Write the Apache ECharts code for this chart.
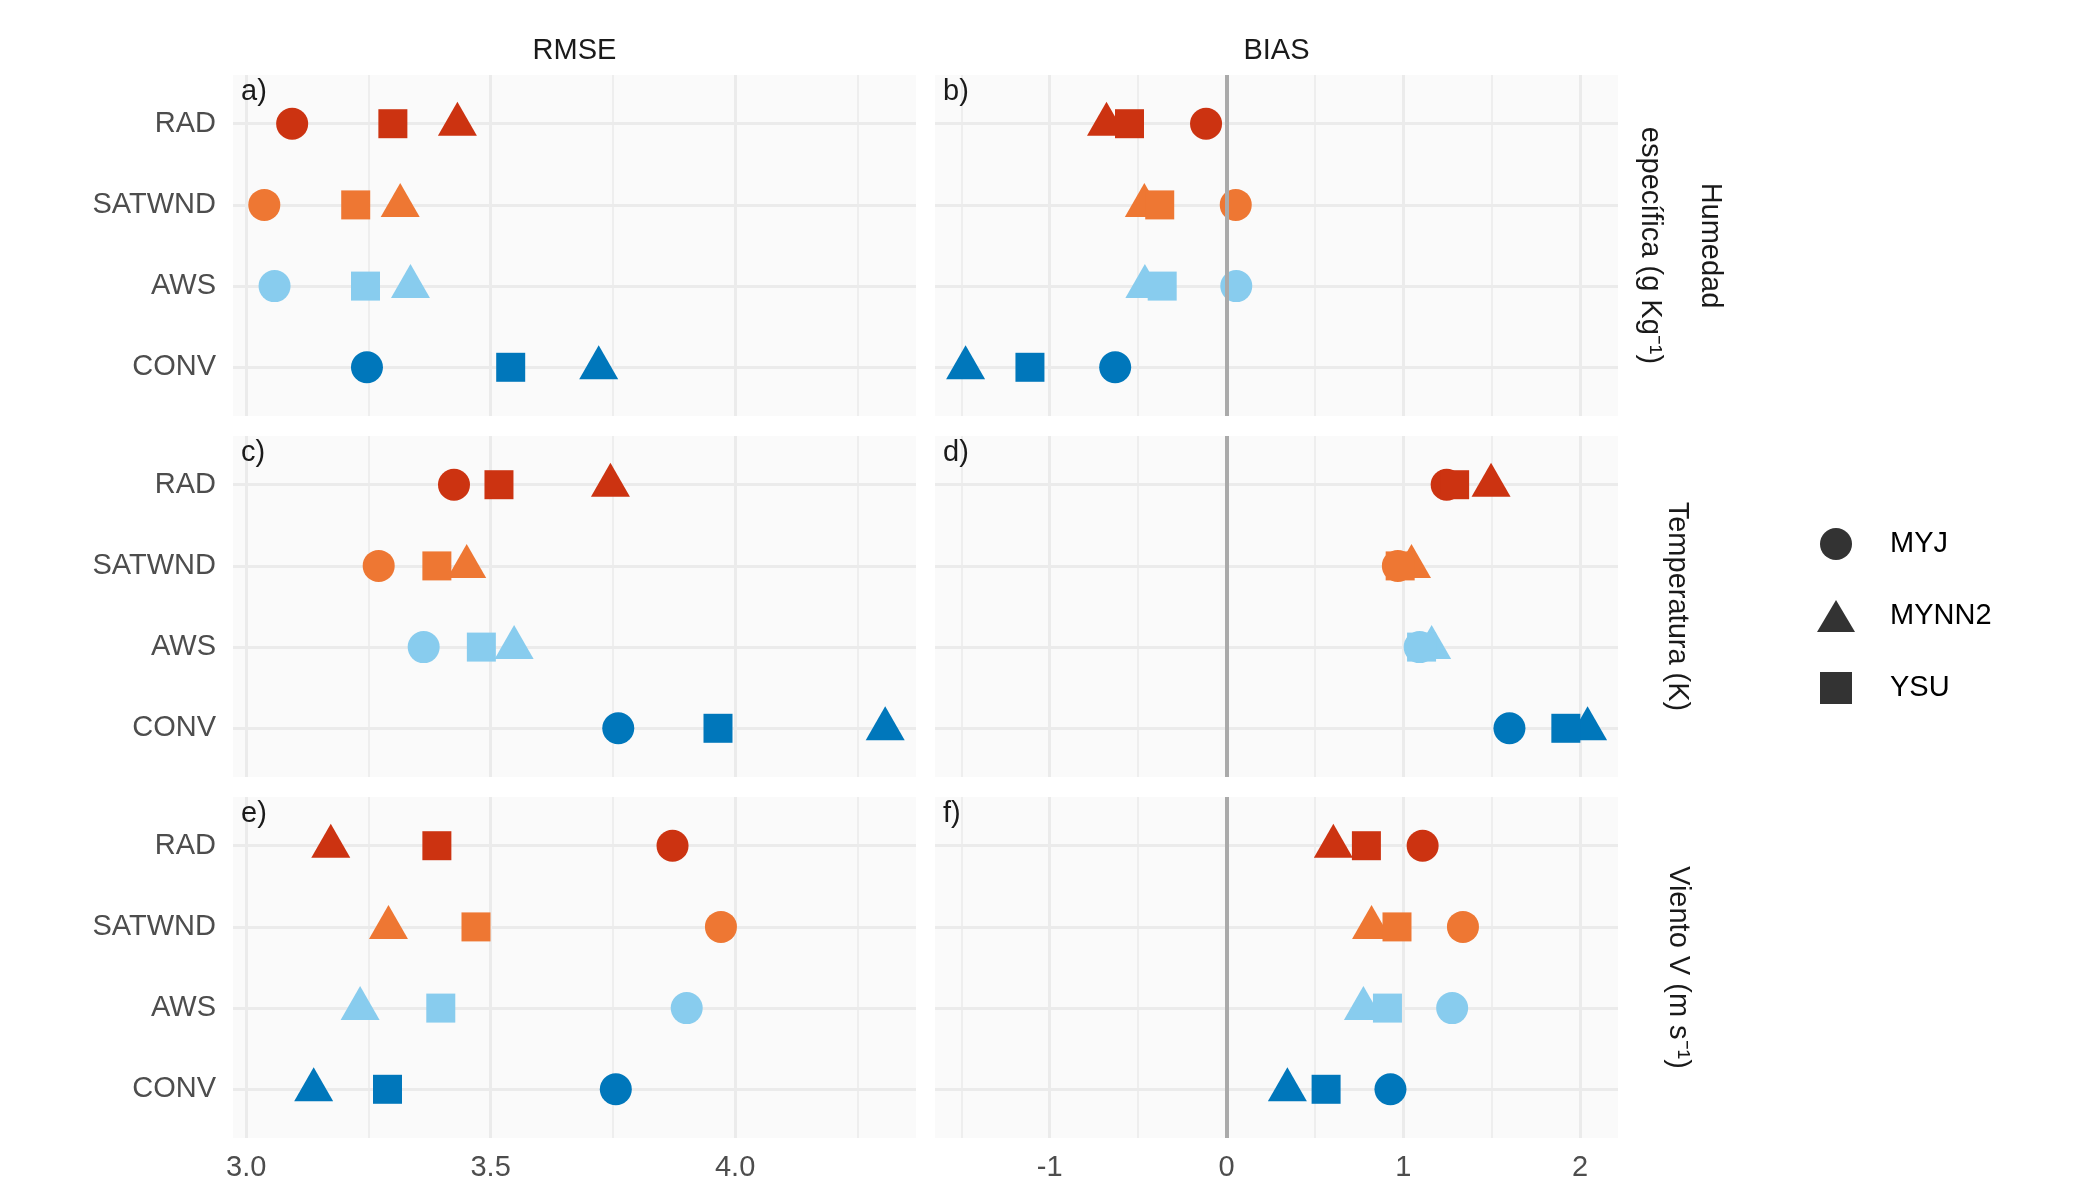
<!DOCTYPE html>
<html><head><meta charset="utf-8">
<script src="https://cdn.jsdelivr.net/npm/echarts@6/dist/echarts.min.js"></script>
<style>html,body{margin:0;padding:0;background:#fff}#c{width:2100px;height:1200px}</style>
</head><body><div id="c"></div>
<script>
// ---------- data ----------
const obsTypes = ['RAD', 'SATWND', 'AWS', 'CONV'];
const obsColors = ['#CC3311', '#EE7733', '#88CCEE', '#0077BB'];
const schemes = ['MYJ', 'MYNN2', 'YSU'];
const metrics = ['RMSE', 'BIAS'];
const variables = ['Humedad\nespecífica (g Kg⁻¹)', 'Temperatura (K)', 'Viento V (m s⁻¹)'];
const panelLetters = ['a)', 'b)', 'c)', 'd)', 'e)', 'f)'];
const rmseTicks = [3.0, 3.5, 4.0];
const rmseMinor = [3.25, 3.75, 4.25];
const biasTicks = [-1, 0, 1, 2];
const biasMinor = [-1.5, -0.5, 0.5, 1.5];

// values in order RAD, SATWND, AWS, CONV
const humRmseMYJ   = [3.094, 3.037, 3.058, 3.247];
const humRmseMYNN2 = [3.432, 3.315, 3.336, 3.721];
const humRmseYSU   = [3.300, 3.224, 3.244, 3.541];
const humBiasMYJ   = [-0.116, 0.052, 0.055, -0.630];
const humBiasMYNN2 = [-0.679, -0.465, -0.462, -1.476];
const humBiasYSU   = [-0.549, -0.378, -0.364, -1.112];
const tempRmseMYJ   = [3.425, 3.271, 3.363, 3.761];
const tempRmseMYNN2 = [3.745, 3.451, 3.548, 4.307];
const tempRmseYSU   = [3.517, 3.390, 3.481, 3.965];
const tempBiasMYJ   = [1.245, 0.969, 1.092, 1.600];
const tempBiasMYNN2 = [1.496, 1.046, 1.160, 2.042];
const tempBiasYSU   = [1.290, 0.982, 1.103, 1.919];
const windRmseMYJ   = [3.872, 3.971, 3.901, 3.756];
const windRmseMYNN2 = [3.173, 3.291, 3.233, 3.138];
const windRmseYSU   = [3.390, 3.470, 3.398, 3.289];
const windBiasMYJ   = [1.109, 1.337, 1.276, 0.927];
const windBiasMYNN2 = [0.604, 0.820, 0.774, 0.344];
const windBiasYSU   = [0.791, 0.964, 0.910, 0.563];

// panels in reading order: [row][col]
const panelData = [
  [[humRmseMYJ, humRmseMYNN2, humRmseYSU], [humBiasMYJ, humBiasMYNN2, humBiasYSU]],
  [[tempRmseMYJ, tempRmseMYNN2, tempRmseYSU], [tempBiasMYJ, tempBiasMYNN2, tempBiasYSU]],
  [[windRmseMYJ, windRmseMYNN2, windRmseYSU], [windBiasMYJ, windBiasMYNN2, windBiasYSU]]
];

// ---------- layout / style ----------
const FONT = '"Liberation Sans", Arial, sans-serif';
const FS = 29;
const colLeft = [233, 935];
const panelW = 683;
const rowTop = [75, 436, 797];
const panelH = 341;
const xRange = [[2.973, 4.370], [-1.649, 2.214]];
const majorTicks = [rmseTicks, biasTicks];
const minorTicks = [rmseMinor, biasMinor];
const gridCol = '#EBEBEB';

const symbols = [
  { symbol: 'circle', size: 32, offset: [0, 0] },
  { symbol: 'triangle', size: [39, 34], offset: [0, -5] },
  { symbol: 'rect', size: 29, offset: [0, 0] }
];

const grids = [], xAxes = [], yAxes = [], series = [], graphics = [];
const nObs = obsTypes.length;
const yTicks = obsTypes.map((_, i) => nObs - i);

for (let r = 0; r < 3; r++) {
  for (let c = 0; c < 2; c++) {
    const p = r * 2 + c;
    grids.push({ left: colLeft[c], top: rowTop[r], width: panelW, height: panelH,
      show: true, backgroundColor: '#FAFAFA', borderWidth: 0, containLabel: false });
    // major x axis
    xAxes.push({ type: 'value', gridIndex: p, min: xRange[c][0], max: xRange[c][1], position: 'bottom',
      axisLine: { show: false },
      axisTick: { show: false, customValues: majorTicks[c] },
      axisLabel: { show: r === 2, customValues: majorTicks[c], margin: 15,
        color: '#4D4D4D', fontFamily: FONT, fontSize: FS,
        formatter: v => (c === 0 ? Number(v).toFixed(1) : String(Math.round(v))) },
      splitLine: { show: true, lineStyle: { color: gridCol, width: 3 } } });
    // minor x axis (only grid lines)
    xAxes.push({ type: 'value', gridIndex: p, min: xRange[c][0], max: xRange[c][1], position: 'top',
      axisLine: { show: false },
      axisTick: { show: false, customValues: minorTicks[c] },
      axisLabel: { show: false },
      splitLine: { show: true, lineStyle: { color: gridCol, width: 1.6 } } });
    yAxes.push({ type: 'value', gridIndex: p, min: 0.4, max: 4.6,
      axisLine: { show: false },
      axisTick: { show: false, customValues: yTicks },
      axisLabel: { show: c === 0, customValues: yTicks, margin: 17, padding: [5, 0, 0, 0],
        color: '#4D4D4D', fontFamily: FONT, fontSize: FS,
        formatter: v => obsTypes[nObs - Math.round(v)] },
      splitLine: { show: true, lineStyle: { color: gridCol, width: 3 } } });

    if (c === 1) {
      series.push({ type: 'scatter', name: 'zero', xAxisIndex: 2 * p, yAxisIndex: p, data: [], z: 1,
        silent: true,
        markLine: { silent: true, symbol: 'none', label: { show: false }, animation: false,
          lineStyle: { color: '#AAAAAA', width: 4, type: 'solid' },
          emphasis: { disabled: true },
          data: [{ xAxis: 0 }] } });
    }
    schemes.forEach((s, k) => {
      const vals = panelData[r][c][k];
      series.push({ type: 'scatter', name: s, xAxisIndex: 2 * p, yAxisIndex: p, z: 3,
        symbol: symbols[k].symbol, symbolSize: symbols[k].size, symbolOffset: symbols[k].offset,
        itemStyle: { color: '#000000' },
        emphasis: { disabled: true },
        data: vals.map((v, i) => ({ value: [v, nObs - i], itemStyle: { color: obsColors[i], opacity: 1 } })) });
    });
    graphics.push({ type: 'text', x: colLeft[c] + 8, y: rowTop[r] + 17, z: 100,
      style: { text: panelLetters[p], font: FS + 'px ' + FONT, fill: '#1A1A1A', align: 'left', verticalAlign: 'middle' } });
  }
}

// column strips
metrics.forEach((m, c) => {
  graphics.push({ type: 'text', x: colLeft[c] + panelW / 2, y: 51, z: 100,
    style: { text: m, font: FS + 'px ' + FONT, fill: '#1A1A1A', align: 'center', verticalAlign: 'middle' } });
});
// row strips (rotated)
const stripX = [1680, 1677, 1678];
variables.forEach((v, r) => {
  graphics.push({ type: 'text', x: stripX[r], y: rowTop[r] + panelH / 2, rotation: -Math.PI / 2, z: 100,
    style: { text: v, font: FS + 'px ' + FONT, fill: '#1A1A1A', align: 'center', verticalAlign: 'middle', lineHeight: 60 } });
});

const option = {
  animation: false,
  backgroundColor: '#FFFFFF',
  grid: grids,
  xAxis: xAxes,
  yAxis: yAxes,
  legend: {
    orient: 'vertical', left: 1812, top: 523, itemWidth: 38, itemHeight: 32, itemGap: 40,
    selectedMode: false,
    itemStyle: { color: '#000000', borderWidth: 0 },
    textStyle: { color: '#000000', fontFamily: FONT, fontSize: FS, padding: [0, 0, 0, 30] },
    data: [
      { name: 'MYJ', icon: 'circle', itemStyle: { color: '#000000' } },
      { name: 'MYNN2', icon: 'triangle', itemStyle: { color: '#000000' } },
      { name: 'YSU', icon: 'path://M0,0h10v10h-10z', symbolKeepAspect: true, itemStyle: { color: '#000000' } }
    ]
  },
  graphic: graphics,
  series: series
};
const chart = echarts.init(document.getElementById('c'), null, { renderer: 'canvas' });
chart.setOption(option);
</script></body></html>
